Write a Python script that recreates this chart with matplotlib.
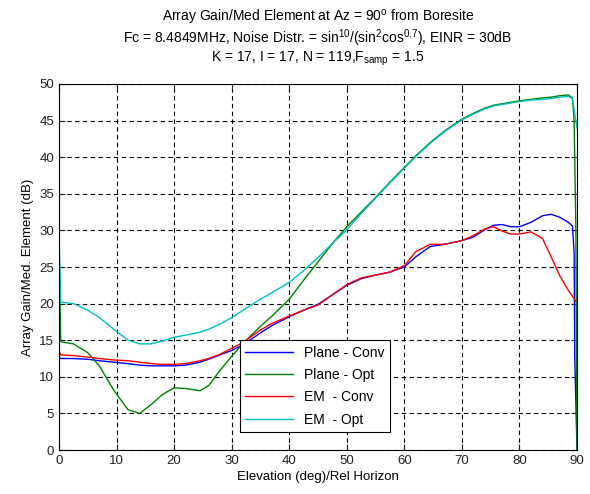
import matplotlib
matplotlib.use("Agg")
import matplotlib.pyplot as plt

plt.rcParams['font.family'] = ['Liberation Sans', 'DejaVu Sans']
plt.rcParams['mathtext.default'] = 'regular'

# elevation grid (deg) shared by the curves, ends handled per series
elev = [0, 0.3, 2.5, 5, 7, 9.5, 12, 14, 16, 18, 20, 22, 24.5, 26, 28, 30, 32, 35, 37, 40,
        42.5, 45, 47.5, 50, 52.5, 55, 57.5, 60, 62, 64.5, 67, 70, 72, 74, 75.5, 77, 78.5, 80,
        82, 84, 85.5, 87, 88.5, 89.2]

plane_conv = [12.7, 12.5, 12.5, 12.4, 12.2, 12.0, 11.8, 11.6, 11.5, 11.5, 11.5, 11.6, 12.0, 12.4,
              13.0, 13.6, 14.4, 16.0, 17.0, 18.2, 19.1, 19.9, 21.2, 22.5, 23.4, 23.9, 24.3, 25.0,
              26.4, 27.8, 28.1, 28.6, 29.1, 30.1, 30.7, 30.8, 30.5, 30.5, 31.1, 32.0, 32.2, 31.8,
              31.1, 30.6]
plane_conv_end_x = [89.5, 89.6, 90]
plane_conv_end = [27.0, 13.0, 0.0]

plane_opt = [28.3, 14.8, 14.5, 13.3, 11.5, 8.2, 5.5, 5.0, 6.2, 7.6, 8.5, 8.4, 8.1, 8.8, 10.9,
             12.8, 14.6, 16.9, 18.3, 20.6, 23.2, 25.7, 28.2, 30.5, 32.5, 34.5, 36.6, 38.6, 40.2,
             42.0, 43.6, 45.2, 46.0, 46.7, 47.1, 47.3, 47.5, 47.7, 47.9, 48.1, 48.2, 48.4, 48.5,
             48.1]
plane_opt_end_x = [89.5, 89.8, 90]
plane_opt_end = [45.0, 30.0, 0.0]

em_conv = [13.6, 13.0, 12.9, 12.7, 12.5, 12.3, 12.2, 12.0, 11.8, 11.7, 11.7, 11.8, 12.2, 12.5,
           13.1, 13.9, 14.7, 16.4, 17.3, 18.3, 19.1, 19.8, 21.2, 22.6, 23.5, 23.9, 24.3, 25.2,
           27.1, 28.1, 28.1, 28.6, 29.3, 30.2, 30.5, 29.9, 29.5, 29.5, 29.8, 28.9, 26.4, 23.8,
           21.8, 21.0]
em_conv_end_x = [89.8]
em_conv_end = [20.3]

em_opt = [29.3, 20.2, 20.0, 19.1, 18.1, 16.5, 15.0, 14.5, 14.5, 14.9, 15.4, 15.7, 16.1, 16.5,
          17.2, 18.1, 19.1, 20.6, 21.5, 22.9, 24.5, 26.3, 28.2, 30.1, 32.3, 34.4, 36.5, 38.5,
          40.1, 41.9, 43.5, 45.1, 45.9, 46.6, 47.0, 47.2, 47.4, 47.6, 47.8, 47.9, 48.0, 48.2,
          48.3, 48.0]
em_opt_end_x = [89.5, 90]
em_opt_end = [46.5, 44.0]

fig = plt.figure(figsize=(5.9, 4.94), dpi=100)
ax = fig.add_axes([0.1, 0.089, 0.878, 0.741])

ax.plot(elev + plane_conv_end_x, plane_conv + plane_conv_end, color='#0000ff', lw=1, label='Plane - Conv')
ax.plot(elev + plane_opt_end_x, plane_opt + plane_opt_end, color='#008000', lw=1, label='Plane - Opt')
ax.plot(elev + em_conv_end_x, em_conv + em_conv_end, color='#ff0000', lw=1, label='EM  - Conv')
ax.plot(elev + em_opt_end_x, em_opt + em_opt_end, color='#00bfbf', lw=1, label='EM  - Opt')

ax.set_xlim(0, 90)
ax.set_ylim(0, 50)
ax.set_xticks(range(0, 91, 10))
ax.set_yticks(range(0, 51, 5))
ax.grid(True, color='black', linestyle=(0, (4, 3)), linewidth=0.8)
ax.tick_params(direction='in', top=True, right=True, labelsize=9.5, length=4, colors='#222222')
for s in ax.spines.values():
    s.set_linewidth(0.8)

ax.set_xlabel('Elevation (deg)/Rel Horizon', fontsize=9.5, labelpad=3)
ax.set_ylabel('Array Gain/Med. Element (dB)', fontsize=9.5)
ax.set_title('Array Gain/Med Element at Az = 90$^o$ from Boresite\n'
             'Fc = 8.4849MHz, Noise Distr. = sin$^{10}$/(sin$^2$cos$^{0.7}$), EINR = 30dB\n'
             'K = 17, I = 17, N = 119,F$_{samp}$ = 1.5', fontsize=10, linespacing=1.05, pad=16)

leg = ax.legend(loc='lower left', bbox_to_anchor=(0.349, 0.049), fontsize=10,
                fancybox=False, framealpha=1, edgecolor='black', handlelength=3.4,
                borderaxespad=0, labelspacing=0.6)
leg.get_frame().set_linewidth(0.8)

fig.savefig('out.png', dpi=100)
